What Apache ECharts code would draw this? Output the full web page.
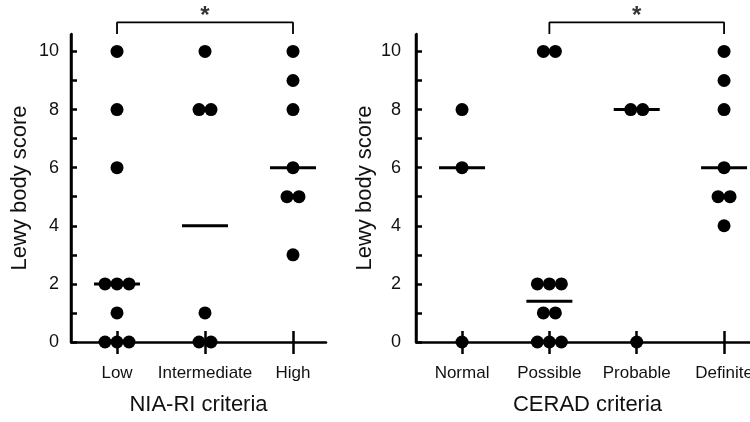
<!DOCTYPE html>
<html>
<head>
<meta charset="utf-8">
<script src="https://cdn.jsdelivr.net/npm/echarts@6/dist/echarts.min.js"></script>
<style>html,body{margin:0;padding:0;background:#fff}#c{width:750px;height:422px}</style>
</head>
<body>
<div id="c"></div>
<script>
// ---- data ----
const niaCategories = ['Low', 'Intermediate', 'High'];
const niaValues = [
  [10, 8, 6, 2, 2, 2, 1, 0, 0, 0],
  [10, 8, 8, 1, 0, 0],
  [10, 9, 8, 6, 5, 5, 3]
];
const niaMedians = [2, 4, 6];
const niaBracket = [0, 2];

const ceradCategories = ['Normal', 'Possible', 'Probable', 'Definite'];
const ceradValues = [
  [8, 6, 0],
  [10, 10, 2, 2, 2, 1, 1, 0, 0, 0],
  [8, 8, 0],
  [10, 9, 8, 6, 5, 5, 4]
];
const ceradMedians = [6, 1.4, 8, 6];
const ceradBracket = [1, 3];

const yTickValues = [0,1,2,3,4,5,6,7,8,9,10];
const yTickLabels = [0, 2, 4, 6, 8, 10];
const yName = 'Lewy body score';
const niaName = 'NIA-RI criteria';
const ceradName = 'CERAD criteria';
const bracketLevel = 11.0;
const bracketFoot = 10.6;
const yMax = 10.6;

// ---- build ----
const FONT = '"Liberation Sans", Arial, Helvetica, sans-serif';
const DOT_SPACING = 12;
// each panel: gap (in category widths) between the y axis and the first category
const PAD = [0.523, 0.527];
const XMAX = [2.898, 3.927];

function dots(values, pad) {
  const out = [];
  values.forEach((arr, ci) => {
    const counts = {};
    arr.forEach(v => counts[v] = (counts[v] || 0) + 1);
    Object.keys(counts).forEach(k => {
      const n = counts[k];
      for (let i = 0; i < n; i++) {
        out.push({ value: [ci + pad, +k], symbolOffset: [(i - (n - 1) / 2) * DOT_SPACING, 0] });
      }
    });
  });
  return out;
}
function bracket(b, pad) {
  return [[b[0] + pad, bracketFoot], [b[0] + pad, bracketLevel], [b[1] + pad, bracketLevel], [b[1] + pad, bracketFoot]];
}

function xAxes(cats, gridIndex, pad, max, name) {
  const ticks = cats.map((c, i) => i + pad);
  return [{
    type: 'value', gridIndex, min: 0, max, position: 'bottom',
    name, nameLocation: 'middle', nameGap: 52,
    nameTextStyle: { fontFamily: FONT, fontSize: 22, color: '#111' },
    axisLine: { show: true, onZero: false, lineStyle: { color: '#000', width: 2.5 } },
    axisTick: { show: true, customValues: ticks, length: 12, inside: false, lineStyle: { color: '#000', width: 2.5 } },
    axisLabel: { show: true, customValues: ticks, margin: 23, fontFamily: FONT, fontSize: 17, color: '#111',
      formatter: v => cats[Math.round(v - pad)] },
    splitLine: { show: false }
  }, {
    type: 'value', gridIndex, min: 0, max, position: 'bottom',
    axisLine: { show: false, onZero: false },
    axisTick: { show: true, customValues: ticks, length: 11, inside: true, lineStyle: { color: '#000', width: 2.5 } },
    axisLabel: { show: false },
    splitLine: { show: false }
  }];
}
function yAxis(gridIndex, margin) {
  return {
    type: 'value', gridIndex, min: 0, max: yMax, position: 'left',
    name: yName, nameLocation: 'middle', nameGap: 40,
    nameTextStyle: { fontFamily: FONT, fontSize: 22, color: '#111' },
    axisLine: { show: true, onZero: false, lineStyle: { color: '#000', width: 2.5 } },
    axisTick: { show: true, customValues: yTickValues, inside: true, length: 6, lineStyle: { color: '#000', width: 2.5 } },
    axisLabel: { show: true, customValues: yTickLabels, margin, fontFamily: FONT, fontSize: 18, color: '#111' },
    splitLine: { show: false }
  };
}
function panelSeries(values, medians, br, xi, yi, pad) {
  return [{
    // vertical axis line along the y axis extent (x = axis min)
    type: 'line', xAxisIndex: xi, yAxisIndex: yi, data: [[0, 0], [0, yMax]], showSymbol: false, symbol: 'none',
    lineStyle: { color: '#000', width: 2.5 }, clip: false, z: 1, silent: true
  }, {
    type: 'scatter', xAxisIndex: xi, yAxisIndex: yi, symbol: 'circle', symbolSize: 13,
    itemStyle: { color: '#000', opacity: 1 }, data: dots(values, pad), z: 3,
    emphasis: { disabled: true }
  }, {
    type: 'scatter', xAxisIndex: xi, yAxisIndex: yi, symbol: 'rect', symbolSize: [46, 3],
    itemStyle: { color: '#000', opacity: 1 }, data: medians.map((m, i) => [i + pad, m]), z: 4,
    emphasis: { disabled: true }
  }, {
    type: 'line', xAxisIndex: xi, yAxisIndex: yi, data: bracket(br, pad), showSymbol: false, symbol: 'none',
    lineStyle: { color: '#000', width: 1.8 }, clip: false, z: 2
  }, {
    type: 'scatter', xAxisIndex: xi, yAxisIndex: yi, symbolSize: 0, clip: false,
    data: [[(br[0] + br[1]) / 2 + pad, bracketLevel]],
    label: { show: true, position: 'inside', offset: [0, -6], formatter: '*', fontFamily: FONT, fontSize: 24, fontWeight: 'bold', color: '#000' }
  }];
}

const option = {
  animation: false,
  grid: [
    { left: 71, top: 34, width: 255, height: 308, outerBoundsMode: 'none', containLabel: false },
    { left: 416, top: 34, width: 343, height: 308, outerBoundsMode: 'none', containLabel: false }
  ],
  xAxis: [
    ...xAxes(niaCategories, 0, PAD[0], XMAX[0], niaName),
    ...xAxes(ceradCategories, 1, PAD[1], XMAX[1], ceradName)
  ],
  yAxis: [yAxis(0, 12), yAxis(1, 15)],
  series: [
    ...panelSeries(niaValues, niaMedians, niaBracket, 0, 0, PAD[0]),
    ...panelSeries(ceradValues, ceradMedians, ceradBracket, 2, 1, PAD[1])
  ]
};
echarts.init(document.getElementById('c')).setOption(option);
</script>
</body>
</html>
